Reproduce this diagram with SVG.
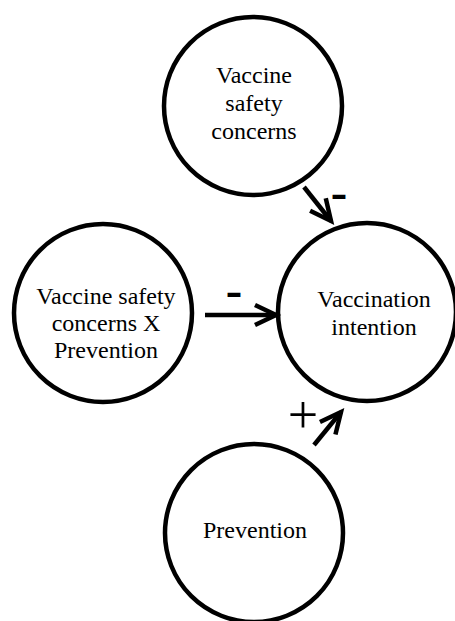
<svg xmlns="http://www.w3.org/2000/svg" width="455" height="621" viewBox="0 0 455 621">
<style>
.node{fill:#fff;stroke:#000;stroke-width:4.5}
.lbl{font-size:24px;fill:#000;text-anchor:middle}
.edge{stroke:#000;stroke-width:4.5;fill:none}
.sign{font-family:"Liberation Sans",Arial,sans-serif;font-weight:bold;font-size:26px;fill:#000;text-anchor:middle}
.plus{font-size:54px;fill:#000;text-anchor:middle}
</style>
<defs>
<marker id="arr" markerUnits="userSpaceOnUse" markerWidth="40" markerHeight="40" viewBox="-30 -20 40 40" refX="0" refY="0" orient="auto">
<path d="M-21,-10 L0,0 L-21,10" fill="none" stroke="#000" stroke-width="4.5" stroke-linejoin="miter"/>
</marker>
</defs>
<rect width="455" height="621" fill="#fff"/>
<g font-family="'Liberation Serif', 'Times New Roman', serif">
<g id="node-safety">
<circle class="node" cx="253" cy="106" r="89"/>
<text class="lbl" x="254" y="83">Vaccine</text>
<text class="lbl" x="254" y="111">safety</text>
<text class="lbl" x="254" y="139">concerns</text>
</g>
<g id="node-interaction">
<circle class="node" cx="103" cy="313" r="89"/>
<text class="lbl" x="106" y="304">Vaccine safety</text>
<text class="lbl" x="106" y="331">concerns X</text>
<text class="lbl" x="106" y="358">Prevention</text>
</g>
<g id="node-intention">
<circle class="node" cx="367" cy="312" r="89"/>
<text class="lbl" x="374" y="307">Vaccination</text>
<text class="lbl" x="374" y="335">intention</text>
</g>
<g id="node-prevention">
<circle class="node" cx="254" cy="533" r="89"/>
<text class="lbl" x="255" y="538">Prevention</text>
</g>
<g id="connectors">
<line class="edge" x1="304" y1="187" x2="331" y2="221" marker-end="url(#arr)"/>
<line class="edge" x1="205" y1="315" x2="276" y2="315" marker-end="url(#arr)"/>
<line class="edge" x1="314" y1="445" x2="341" y2="412" marker-end="url(#arr)"/>
<text class="sign" x="0" y="7" transform="translate(339,196.5) scale(1,1.6)">–</text>
<text class="sign" x="0" y="7" transform="translate(234,295) scale(1,1.6)">–</text>
<text class="plus" x="303" y="433">+</text>
</g>
</g>
</svg>
